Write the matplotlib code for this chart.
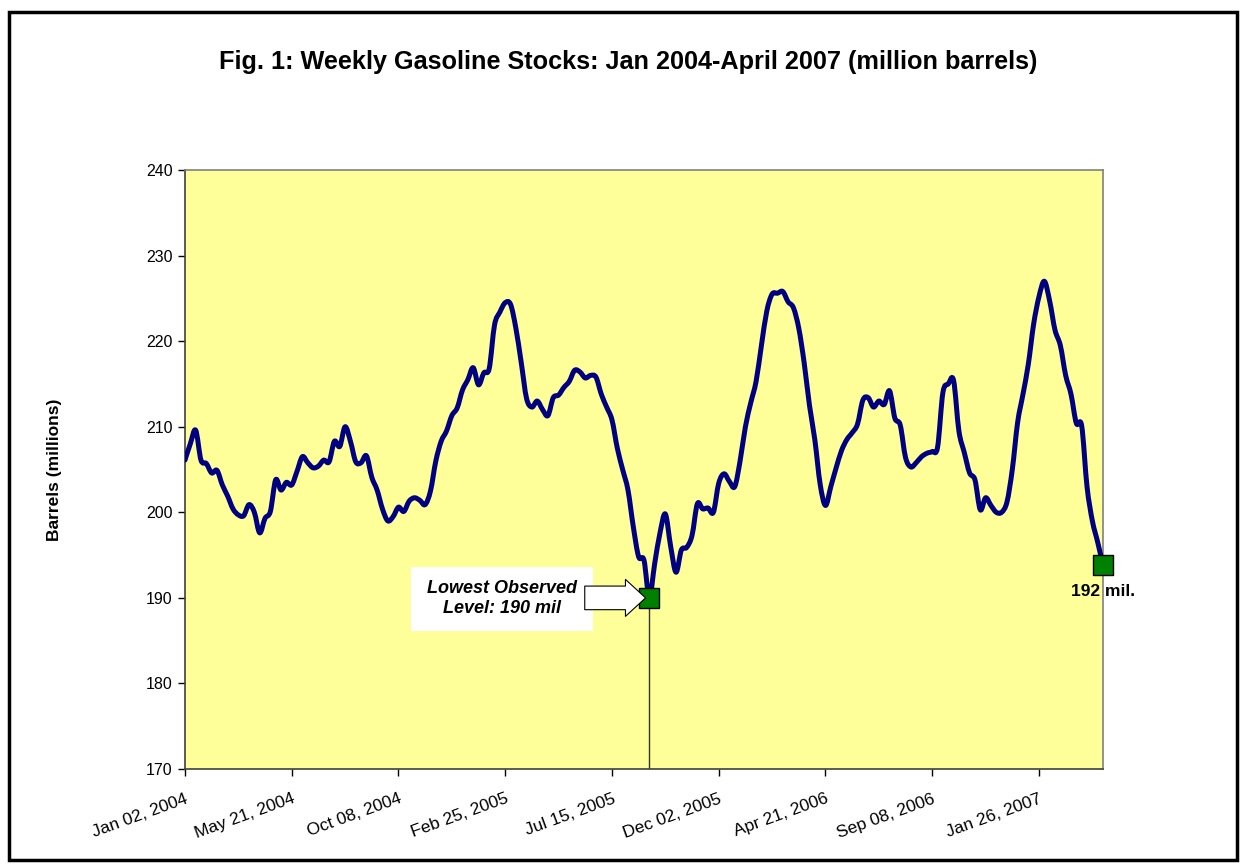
import matplotlib.pyplot as plt
from matplotlib.patches import Rectangle, PathPatch
from matplotlib.path import Path
import numpy as np

plt.rcParams['font.family'] = ['Liberation Sans', 'DejaVu Sans']

# weekly gasoline stocks, million barrels, Jan 02 2004 .. Apr 20 2007
stocks = [
    206.1, 208.0, 209.6, 206.1, 205.7, 204.6, 204.9, 203.2, 201.9, 200.4,
    199.7, 199.6, 200.9, 200.0, 197.6, 199.3, 200.1, 203.8, 202.6, 203.5,
    203.2, 204.8, 206.5, 205.8, 205.2, 205.4, 206.1, 205.9, 208.3, 207.7,
    210.0, 208.3, 205.9, 205.8, 206.6, 204.1, 202.6, 200.4, 199.0, 199.5,
    200.6, 200.1, 201.3, 201.7, 201.4, 200.9, 202.5, 206.0, 208.3, 209.5,
    211.3, 212.2, 214.3, 215.5, 216.9, 214.9, 216.3, 216.8, 221.9, 223.4,
    224.5, 224.3, 221.5, 217.5, 213.3, 212.3, 213.0, 212.0, 211.3, 213.4,
    213.7, 214.6, 215.3, 216.6, 216.4, 215.7, 216.0, 215.8, 213.8, 212.3,
    210.8, 207.5, 205.0, 202.6, 198.3, 194.8, 194.4, 190.0, 194.0, 197.6,
    199.8, 196.0, 193.0, 195.6, 195.9, 197.3, 201.0, 200.4, 200.5, 200.0,
    203.4, 204.5, 203.6, 203.0, 206.0, 210.0, 212.8, 215.3, 219.5, 223.5,
    225.5, 225.6, 225.8, 224.6, 223.9, 221.5, 217.5, 212.5, 208.5, 203.3,
    200.8, 203.0, 205.2, 207.2, 208.5, 209.3, 210.3, 213.1, 213.4, 212.3,
    213.0, 212.6, 214.2, 211.0, 210.2, 206.4, 205.3, 205.8, 206.5, 206.9,
    207.1, 207.6, 214.0, 215.0, 215.4, 209.5, 207.0, 204.6, 203.8, 200.3,
    201.7, 200.8, 200.0, 200.0, 201.2, 205.0, 210.5, 213.8, 217.3, 222.0,
    225.2, 227.0, 224.7, 221.3, 219.5, 216.0, 213.8, 210.4, 210.1, 203.0,
    199.0, 196.5, 193.8,
]

tick_weeks = [0, 20, 40, 60, 80, 100, 120, 140, 160]
tick_labels = ['Jan 02, 2004', 'May 21, 2004', 'Oct 08, 2004', 'Feb 25, 2005',
               'Jul 15, 2005', 'Dec 02, 2005', 'Apr 21, 2006', 'Sep 08, 2006',
               'Jan 26, 2007']
y_ticks = [170, 180, 190, 200, 210, 220, 230, 240]

low_week = 87
low_value = 190.0
last_week = len(stocks) - 1
last_value = stocks[-1]

fig = plt.figure(figsize=(12.43, 8.67), dpi=100)
ax = fig.add_axes([0.1488, 0.1130, 0.7386, 0.6909])
ax.set_facecolor('#FFFF99')

# smoothed line like Excel: bezier segments through every weekly point
pts = np.column_stack([np.arange(len(stocks)), stocks]).astype(float)
padded = np.vstack([pts[0], pts, pts[-1]])
verts = [pts[0]]
codes = [Path.MOVETO]
for i in range(len(pts) - 1):
    p0, p1, p2, p3 = padded[i], padded[i + 1], padded[i + 2], padded[i + 3]
    verts += [p1 + (p2 - p0) / 6, p2 - (p3 - p1) / 6, p2]
    codes += [Path.CURVE4] * 3
ax.add_patch(PathPatch(Path(verts, codes), fill=False, ec='#000080', lw=3.6,
                       joinstyle='round', capstyle='round', zorder=3))

# drop line from the lowest point
ax.plot([low_week, low_week], [170, low_value], color='#333333', lw=1, zorder=2)

ax.plot([low_week], [low_value], 's', ms=14.5, mfc='#008000', mec='black',
        mew=1, zorder=5)
ax.plot([last_week], [last_value], 's', ms=14.5, mfc='#008000', mec='black',
        mew=1, zorder=5, clip_on=False)

# callout box and block arrow
ax.add_patch(Rectangle((42.3, 186.1), 34.1, 7.5, fc='white', ec='none', zorder=4))
ax.text(59.4, 189.9, 'Lowest Observed\nLevel: 190 mil', ha='center', va='center',
        fontsize=13, fontweight='bold', fontstyle='italic', linespacing=1.25,
        zorder=6)
ax.annotate('', xy=(low_week - 0.7, low_value), xytext=(74.9, low_value),
            arrowprops=dict(arrowstyle='simple,head_length=1.45,head_width=2.66,tail_width=1.7',
                            fc='white', ec='black', lw=0.8, shrinkA=0, shrinkB=0,
                            mutation_scale=10),
            zorder=6)

ax.text(last_week, 190.7, '192 mil.', ha='center', va='center', fontsize=12.5,
        fontweight='bold', zorder=6, clip_on=False)

ax.set_xlim(0, last_week)
ax.set_ylim(170, 240)
ax.set_yticks(y_ticks)
ax.set_xticks(tick_weeks)
ax.set_xticklabels(tick_labels, rotation=20, ha='right', rotation_mode='anchor',
                   fontsize=12.5)
ax.tick_params(axis='y', labelsize=11.5, length=5, width=1, direction='out', pad=4)
ax.tick_params(axis='x', length=5, width=1, direction='out', pad=11)

for side in ['left', 'bottom']:
    ax.spines[side].set_color('#404040')
    ax.spines[side].set_linewidth(1.2)
for side in ['top', 'right']:
    ax.spines[side].set_color('#808080')
    ax.spines[side].set_linewidth(1.2)

fig.text(0.505, 1 - 62 / 867, 'Fig. 1: Weekly Gasoline Stocks: Jan 2004-April 2007 (million barrels)',
         ha='center', va='center', fontsize=18.2, fontweight='bold')
fig.text(55 / 1243, 1 - 470 / 867, 'Barrels (millions)', rotation=90,
         ha='center', va='center', fontsize=12.5, fontweight='bold')

# outer frame
fig.patches.append(Rectangle((0.0072, 0.0081), 0.9880, 0.9781, transform=fig.transFigure,
                             fill=False, ec='black', lw=2.5))

fig.savefig('out.png', dpi=100)
